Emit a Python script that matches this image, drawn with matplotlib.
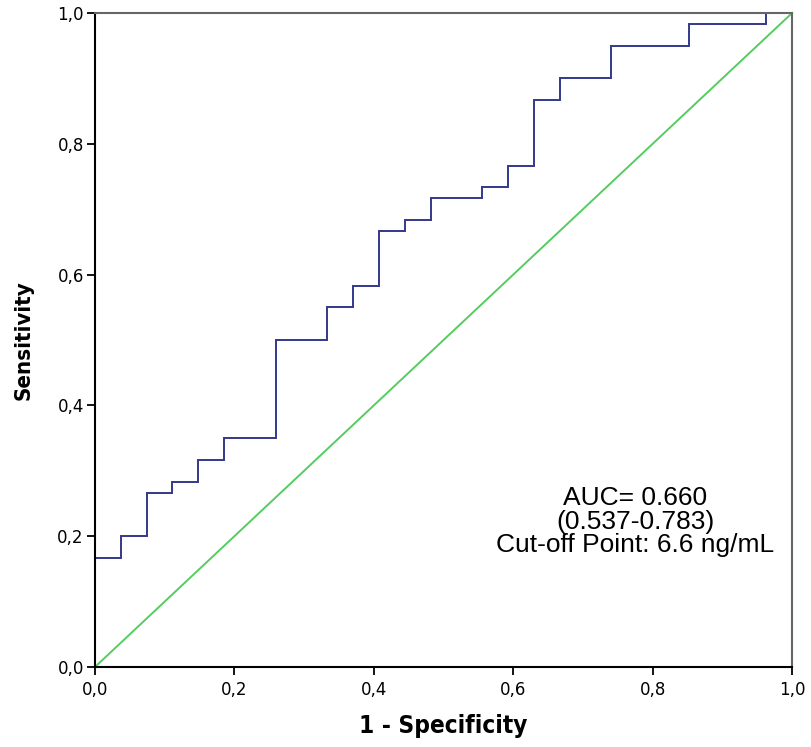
import matplotlib
matplotlib.use("Agg")
import matplotlib.pyplot as plt
from matplotlib.ticker import FuncFormatter

# ROC curve points (1 - specificity in 27ths, sensitivity in 60ths)
fpr_steps = [0, 1, 2, 3, 4, 5, 7, 9, 10, 11, 12, 13, 15, 16, 17, 18, 20, 23, 26, 27]
tpr_steps = [10, 12, 16, 17, 19, 21, 30, 33, 35, 40, 41, 43, 44, 46, 52, 54, 57, 59, 60, 60]
n_neg = 27
n_pos = 60

auc_text = "AUC= 0.660\n(0.537-0.783)\nCut-off Point: 6.6 ng/mL"
tick_values = [0.0, 0.2, 0.4, 0.6, 0.8, 1.0]

# build the staircase path: horizontal first, then up
xs = [0.0]
ys = [0.0]
for f, t in zip(fpr_steps, tpr_steps):
    x = f / n_neg
    y = t / n_pos
    xs.append(x)
    ys.append(ys[-1])
    xs.append(x)
    ys.append(y)

fig = plt.figure(figsize=(8.11, 7.47), dpi=100)
ax = fig.add_axes([0.117, 0.107, 0.8597, 0.8756])

ax.plot(xs, ys, color="#34388a", linewidth=1.4, solid_joinstyle="miter")
ax.plot([0, 1], [0, 1], color="#55cc60", linewidth=1.4)

ax.set_xlim(0, 1)
ax.set_ylim(0, 1)
ax.set_xticks(tick_values)
ax.set_yticks(tick_values)
comma = FuncFormatter(lambda v, p: ("%.1f" % v).replace(".", ","))
ax.xaxis.set_major_formatter(comma)
ax.yaxis.set_major_formatter(comma)

ax.tick_params(direction="out", length=6, width=1.3, color="black",
               labelsize=12, pad=4)
ax.tick_params(axis="y", pad=2)

for side in ["left", "bottom"]:
    ax.spines[side].set_color("black")
    ax.spines[side].set_linewidth(1.5)
for side in ["top", "right"]:
    ax.spines[side].set_color("#666666")
    ax.spines[side].set_linewidth(1.5)

ax.set_xlabel("1 - Specificity", fontsize=17.5, fontweight="bold",
              fontfamily="DejaVu Sans", fontstretch="condensed", labelpad=11)
ax.set_ylabel("Sensitivity", fontsize=16, fontweight="bold",
              fontfamily="DejaVu Sans", fontstretch="condensed", labelpad=17)

ax.text(0.775, 0.222, auc_text, transform=ax.transData, ha="center", va="center",
        fontsize=19, fontfamily="Liberation Sans", linespacing=0.98)

fig.savefig("out.png", dpi=100)
